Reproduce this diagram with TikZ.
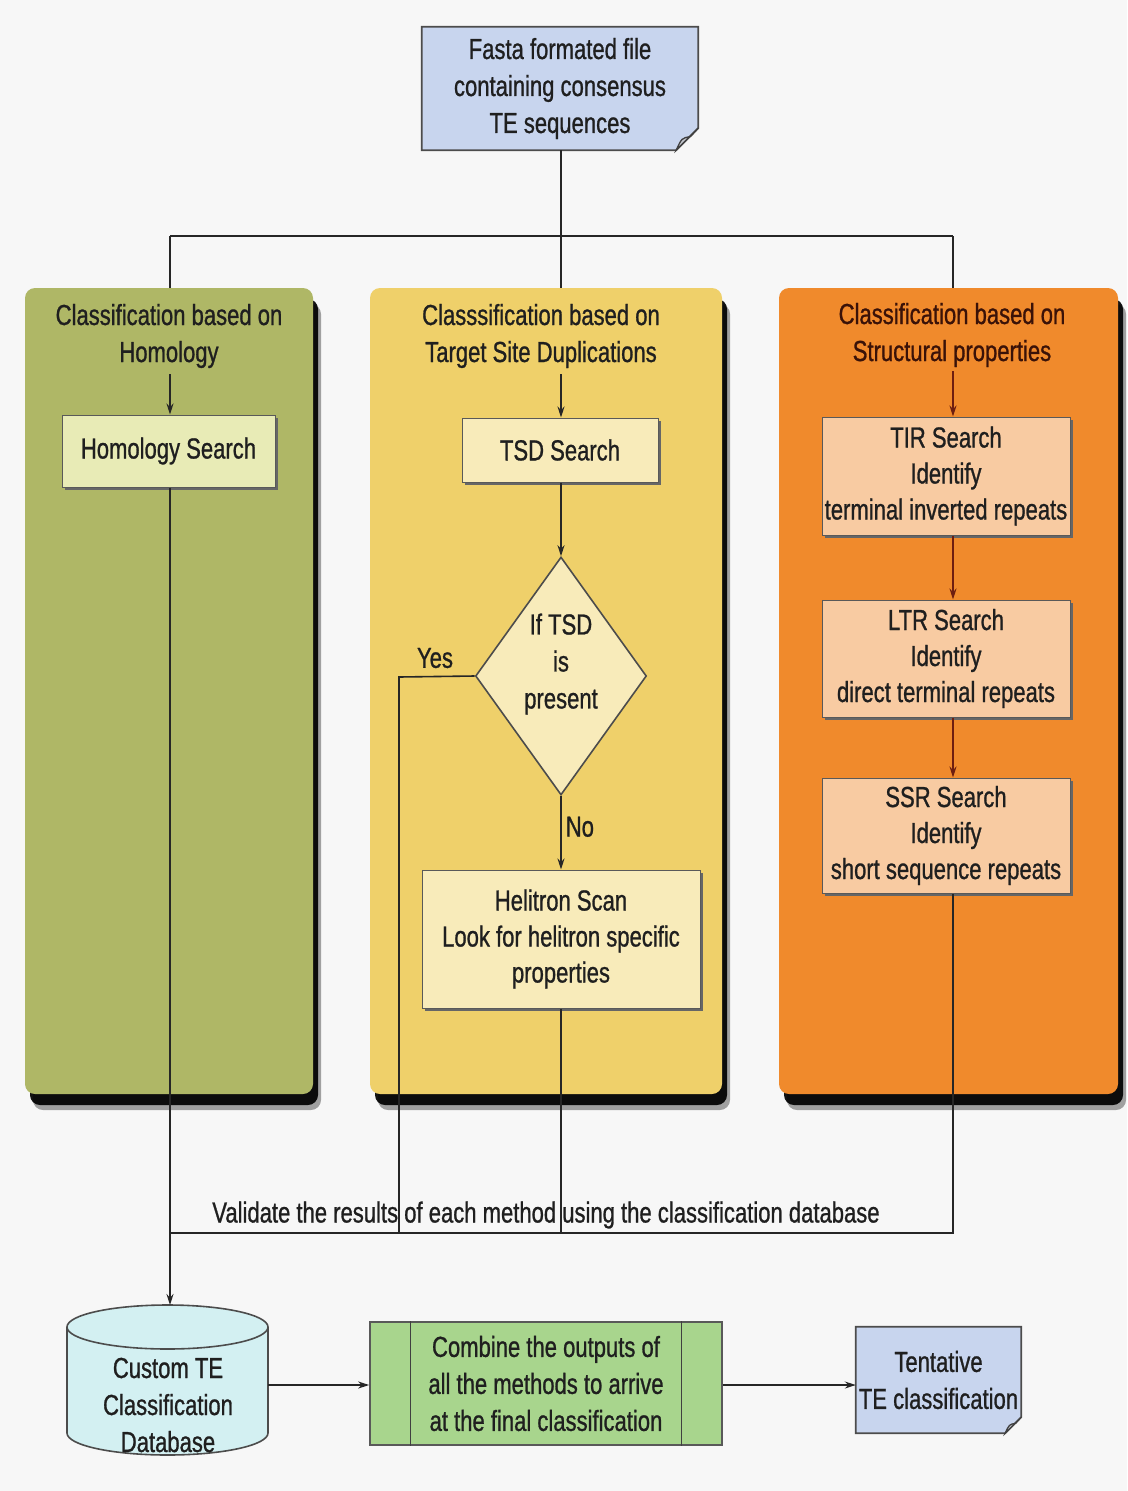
\documentclass[tikz,border=0pt]{standalone}
\usepackage{fontspec}
\setmainfont{Liberation Sans}[FakeStretch=0.76, FakeBold=0.9]
\usetikzlibrary{shapes.geometric,arrows.meta,shadows,backgrounds}

\definecolor{pagebg}{HTML}{F7F7F7}
\definecolor{docblue}{HTML}{C8D5EE}
\definecolor{colgreen}{HTML}{AFB766}
\definecolor{colyellow}{HTML}{EFD06A}
\definecolor{colorange}{HTML}{F08A2C}
\definecolor{palegreen}{HTML}{E8EBB6}
\definecolor{paleyellow}{HTML}{F8EBBA}
\definecolor{palepeach}{HTML}{F8CBA2}
\definecolor{dbcyan}{HTML}{D3F0F2}
\definecolor{combgreen}{HTML}{A8D58D}
\definecolor{inkline}{HTML}{262626}
\definecolor{rustline}{HTML}{6E1E10}
\definecolor{rusttext}{HTML}{3A1208}

\tikzset{
  txt/.style={font=\fontsize{29pt}{37pt}\selectfont, text=black!88, align=center, inner sep=0pt},
  column/.style={rounded corners=10pt, draw=none, minimum width=#1, minimum height=806pt,
    drop shadow={shadow xshift=8pt, shadow yshift=-16pt, fill=black, opacity=0.35},
    drop shadow={shadow xshift=5pt, shadow yshift=-11pt, fill=black, opacity=0.92}},
  stepbox/.style={draw=black!65, line width=1pt, align=center, inner sep=0pt,
    font=\fontsize{29pt}{36pt}\selectfont, text=black!88,
    drop shadow={shadow xshift=2.5pt, shadow yshift=-3pt, fill=black!60, opacity=1}},
  conn/.style={draw=inkline, line width=1.6pt},
  arr/.style={conn, -{Stealth[length=11pt,width=7pt]}},
  rustarr/.style={arr, draw=rustline},
}

% document shape (folded bottom-right corner) drawn around a named node
\newcommand\docoutline[2]{%
  \filldraw[fill=docblue, draw=black!70, line width=1.8pt]
    (#1.north west) -- (#1.north east) -- ([yshift=#2]#1.south east)
    -- ([xshift=-#2]#1.south east) -- (#1.south west) -- cycle;
  \filldraw[draw=black!75, line width=1.3pt, fill=docblue!60!black!45]
    ([xshift=-#2]#1.south east) .. controls ([xshift=-0.75*#2, yshift=0.55*#2]#1.south east)
    .. ([xshift=-0.35*#2, yshift=0.62*#2]#1.south east) -- ([yshift=#2]#1.south east)
    -- cycle;
}

\begin{document}
\begin{tikzpicture}[x=1pt, y=-1pt]
\useasboundingbox (0,0) rectangle (1127,1491);
\begin{scope}[on background layer]
  \fill[pagebg] (0,0) rectangle (1127,1491);
\end{scope}

% ---------- the three classification columns ----------
\node[column=288pt, fill=colgreen]  (colA) at (169,691) {};
\node[column=352pt, fill=colyellow] (colB) at (546,691) {};
\node[column=339pt, fill=colorange] (colC) at (948.5,691) {};

\node[txt] (tA) at (169,336) {Classification based on\\Homology};
\node[txt] (tB) at (541,336) {Classsification based on\\Target Site Duplications};
\node[txt, text=rusttext] (tC) at (952,335) {Classification based on\\Structural properties};

% ---------- input file ----------
\node[txt, minimum width=276pt, minimum height=123pt] (src) at (560,88.5)
  {Fasta formated file\\containing consensus\\TE sequences};
\begin{scope}[on background layer]
  \docoutline{src}{22pt}
\end{scope}

% branch lines from the input file to the columns
\coordinate (split) at (561,236);
\coordinate (xA) at (170,236);
\coordinate (xC) at (953,236);
\draw[conn] (src.south -| split) -- (split);
\draw[conn] (xA) -- (xC);
\draw[conn] (xA) -- (xA |- colA.north);
\draw[conn] (split) -- (split |- colB.north);
\draw[conn] (xC) -- (xC |- colC.north);

% ---------- boxes inside the columns ----------
\node[stepbox, fill=palegreen, minimum width=213pt, minimum height=72pt] (hom) at (168.5,451) {Homology Search};
\node[stepbox, fill=paleyellow, minimum width=196pt, minimum height=64pt] (tsd) at (560,450) {TSD Search};
\node[diamond, draw=black!70, line width=1.6pt, fill=paleyellow, minimum width=171pt,
      minimum height=238pt, inner sep=0pt, aspect=0.72] (dia) at (561,676) {};
\node[txt] (diat) at (561,664) {If TSD\\is\\present};
\node[stepbox, fill=paleyellow, minimum width=278pt, minimum height=138pt] (hel) at (561,939)
  {Helitron Scan\\Look for helitron specific\\properties};

\begin{scope}[every node/.append style={font=\fontsize{27.5pt}{35pt}\selectfont, text=rusttext}]
\node[stepbox, fill=palepeach, minimum width=248pt, minimum height=118pt] (tir) at (946,476)
  {TIR Search\\Identify\\terminal inverted repeats};
\node[stepbox, fill=palepeach, minimum width=248pt, minimum height=117pt] (ltr) at (946,658.5)
  {LTR Search\\Identify\\direct terminal repeats};
\node[stepbox, fill=palepeach, minimum width=248pt, minimum height=115pt] (ssr) at (946,835.5)
  {SSR Search\\Identify\\short sequence repeats};
\end{scope}

% ---------- connectors inside the columns ----------
\draw[arr] (xA |- tA.south) ++(0,6) -- (xA |- hom.north);
\draw[arr] (split |- tB.south) ++(0,6) -- (tsd.north -| split);
\draw[arr] (tsd.south -| split) -- (dia.north);
\draw[arr] (dia.south) -- node[txt, right=4pt, pos=0.42] (nolab) {No} (hel.north -| dia.south);
\draw[rustarr] (xC |- tC.south) ++(0,4) -- (xC |- tir.north);
\draw[rustarr] (xC |- tir.south) -- (xC |- ltr.north);
\draw[rustarr] (xC |- ltr.south) -- (xC |- ssr.north);

% ---------- validation line ----------
\coordinate (yesx) at (399,677);
\coordinate (valA) at (170,1233);
\coordinate (valC) at (953,1233);
\node[txt] (yeslab) at (435,658) {Yes};
\draw[conn] (dia.west) -- (yesx) -- (yesx |- valA);
\draw[conn] (hel.south -| split) -- (split |- valA);
\draw[conn] (xC |- ssr.south) -- (valC) -- (valA);
\node[txt] (vallab) at (546,1215) {Validate the results of each method using the classification database};

% ---------- database ----------
\coordinate (dbtop) at (170,1305);
\coordinate (dbright) at (268,1385);
\filldraw[fill=dbcyan, draw=black!70, line width=1.6pt]
  (67,1327) -- (67,1433) arc[start angle=180, end angle=360, x radius=100.5pt, y radius=22pt]
  -- (268,1327) arc[start angle=0, end angle=180, x radius=100.5pt, y radius=22pt] -- cycle;
\draw[black!70, line width=1.6pt]
  (67,1327) arc[start angle=180, end angle=360, x radius=100.5pt, y radius=22pt];
\node[txt] (db) at (168,1405) {Custom TE\\Classification\\Database};

\draw[arr] (hom.south -| xA) -- (dbtop);

% ---------- combination step and result ----------
\node[draw=black!65, line width=1.6pt, fill=combgreen, minimum width=352pt, minimum height=123pt,
      txt] (comb) at (546,1383.5)
  {Combine the outputs of\\all the methods to arrive\\at the final classification};
\draw[black!75, line width=1.2pt] ([xshift=41pt]comb.north west) -- ([xshift=41pt]comb.south west);
\draw[black!75, line width=1.2pt] ([xshift=-41pt]comb.north east) -- ([xshift=-41pt]comb.south east);

\node[txt, minimum width=165pt, minimum height=106pt] (tent) at (938.5,1380)
  {Tentative\\TE classification};
\begin{scope}[on background layer]
  \docoutline{tent}{16pt}
\end{scope}

\draw[arr] (dbright) -- (comb.west |- dbright);
\draw[arr] (comb.east |- dbright) -- (tent.west |- dbright);

\end{tikzpicture}
\end{document}
